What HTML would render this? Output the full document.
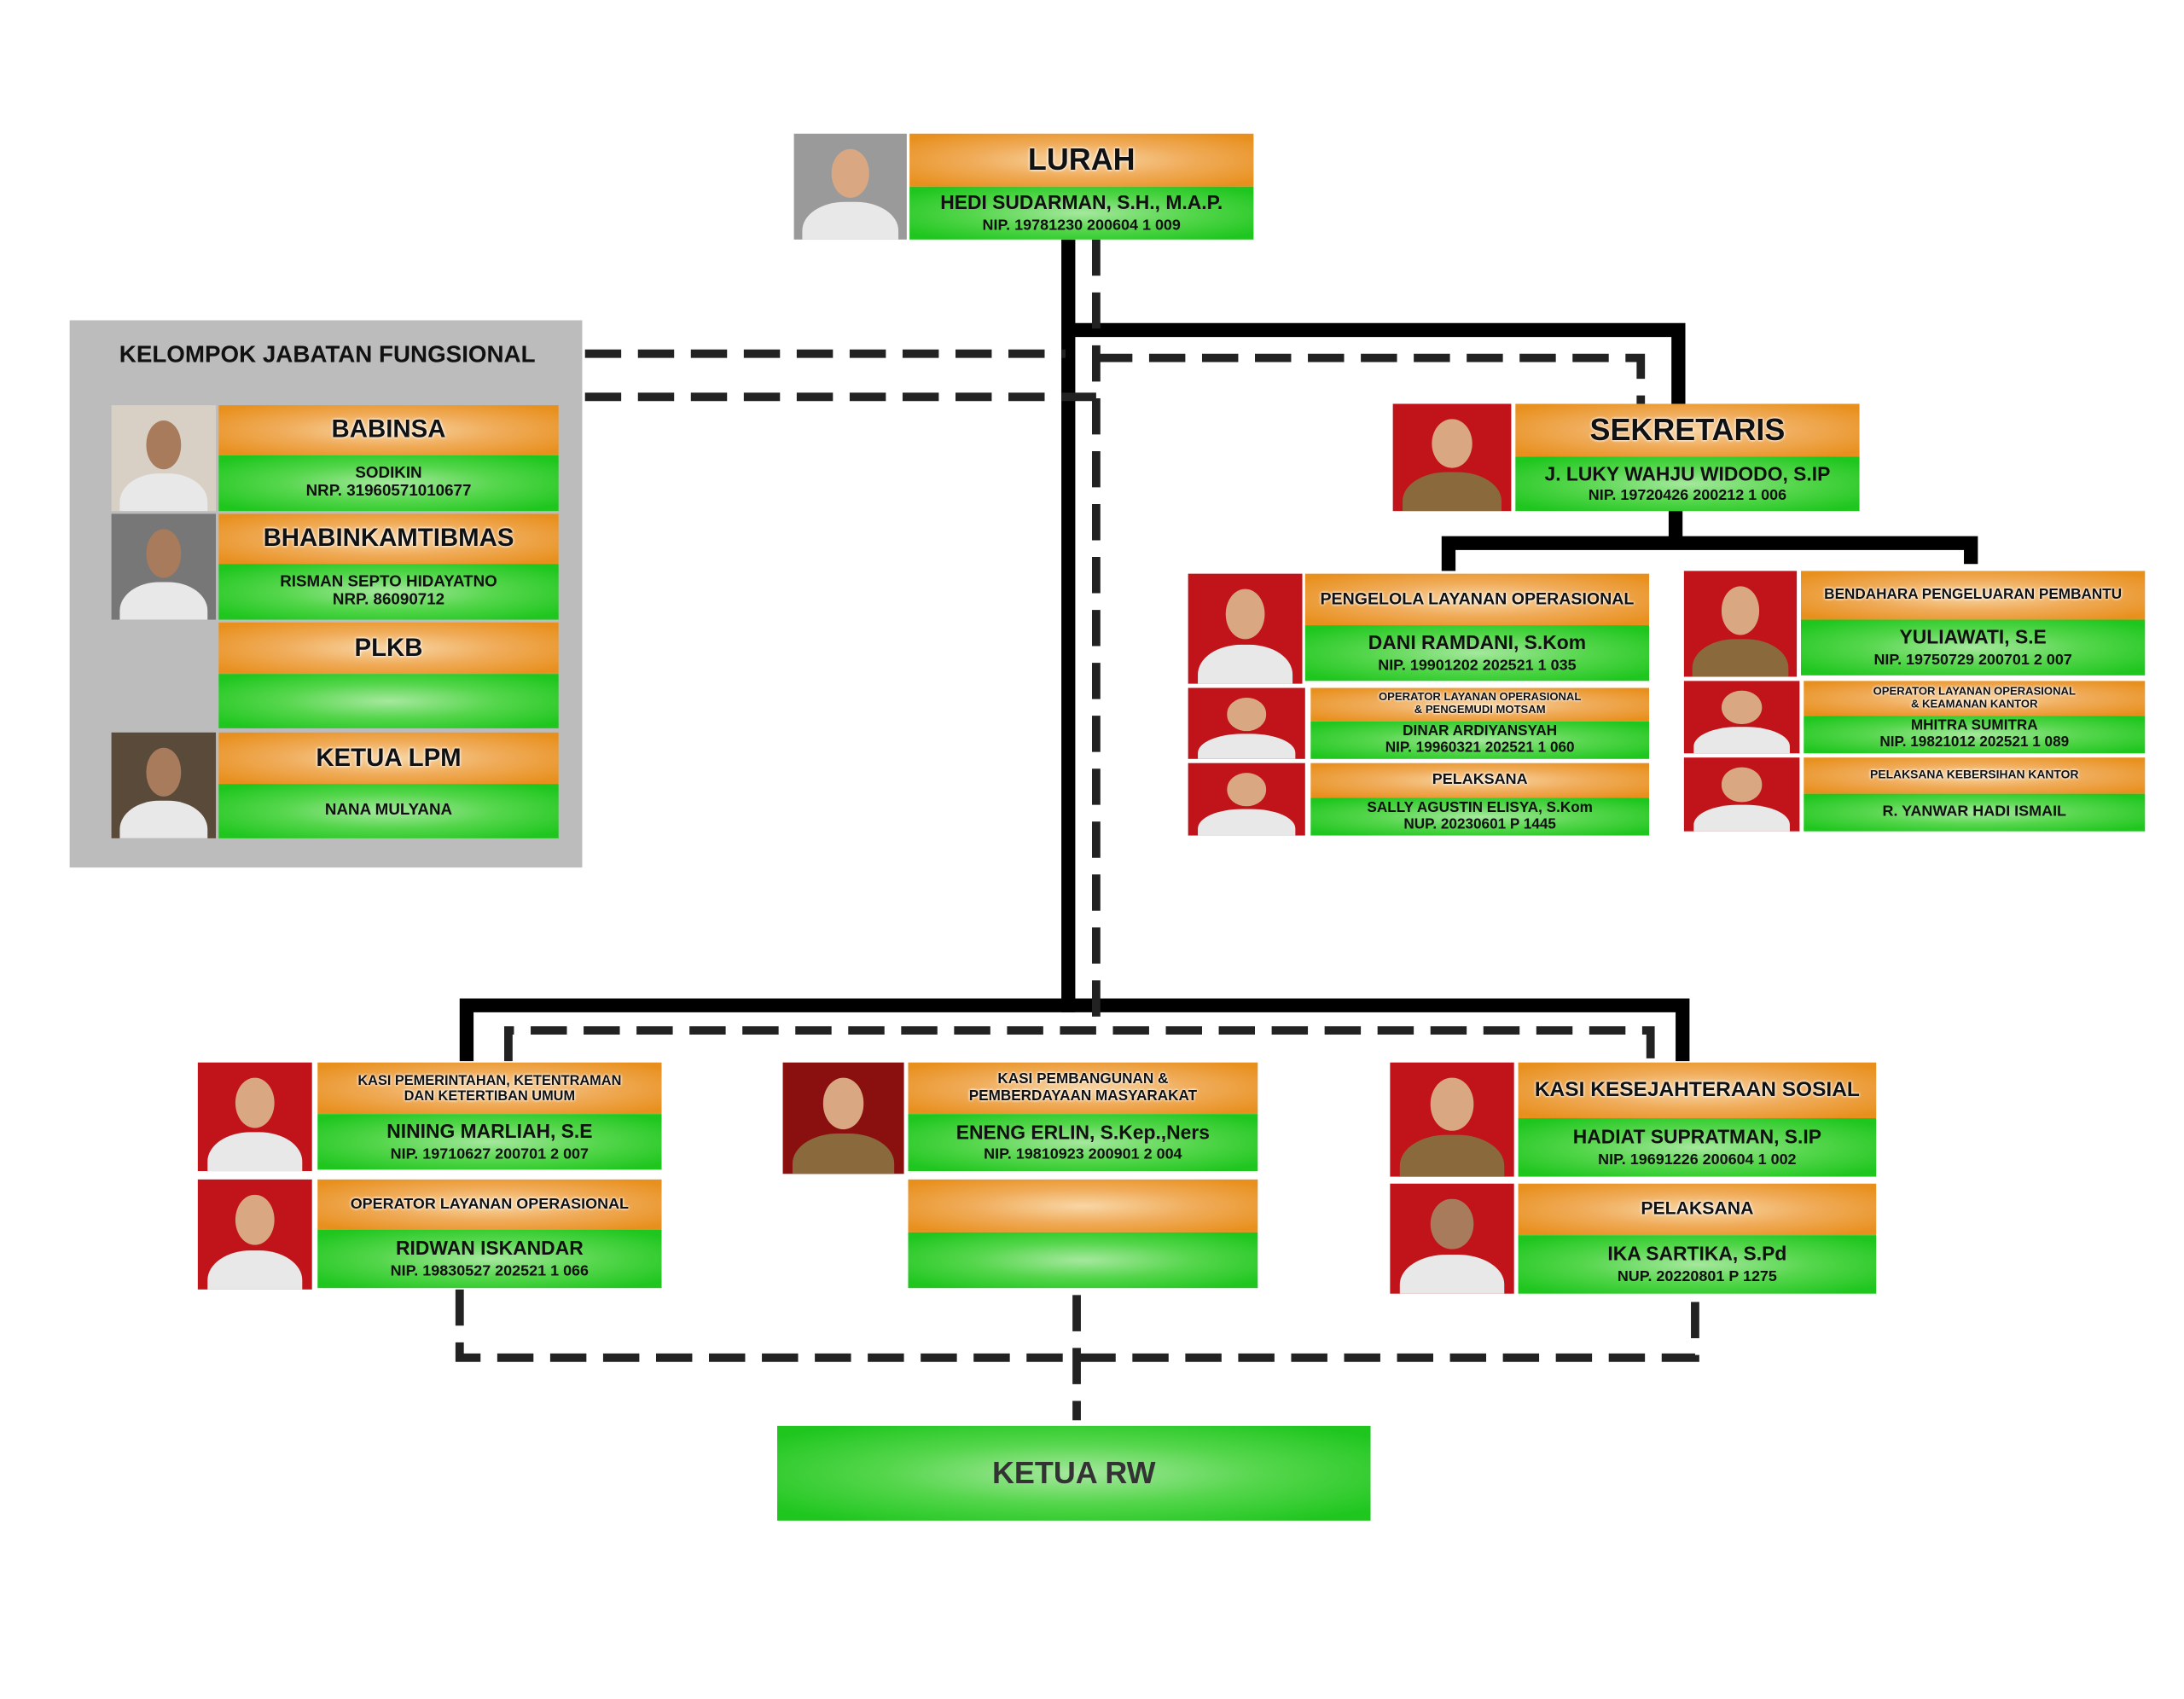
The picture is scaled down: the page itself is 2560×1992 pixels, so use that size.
<!DOCTYPE html>
<html><head><meta charset="utf-8"><style>
html,body{margin:0;padding:0;background:#fff;width:2560px;height:1992px;overflow:hidden}
#s{position:absolute;left:0;top:0;width:1568px;height:1220px;transform:scale(1.63265);transform-origin:0 0;font-family:"Liberation Sans Narrow","Liberation Sans",sans-serif;font-weight:bold}
.o,.g{position:absolute;display:flex;flex-direction:column;align-items:center;justify-content:center;text-align:center;color:#111;line-height:1.1;box-sizing:border-box}
.o{background:radial-gradient(ellipse at center,#f8d6a6 0%,#f0ac5a 45%,#e8901e 90%)}
.g{background:radial-gradient(ellipse at center,#a6e89e 0%,#55d64c 45%,#1ec61e 90%)}
.t{text-shadow:0 0 2px #fff,0 0 2px #fff}
.p{position:absolute;background:#c0141a;overflow:hidden}
.p::before{content:"";position:absolute;left:33%;top:14%;width:34%;height:46%;border-radius:50%;background:#d9a883}
.p::after{content:"";position:absolute;left:8%;top:64%;width:84%;height:60%;border-radius:45% 45% 0 0;background:#e8e8e8}
.pb::after{background:#8a6a3c}
.pd::before{background:#a77b5c}
.pg{background:#9a9a9a}
.ar{font-family:"Liberation Sans",sans-serif}
svg{position:absolute;left:0;top:0}
</style></head><body><div id="s">
<svg width="1568" height="1220">
<g stroke="#000" stroke-width="10" fill="none">
<path d="M767 172V727"/>
<path d="M767 237H1205V290"/>
<path d="M1203 367V390M1040 410V390H1415V405"/>
<path d="M335 762V722H1208V762"/>
</g>
<g stroke="#222" stroke-width="6" fill="none" stroke-dasharray="26 12">
<path d="M787 172V740"/>
<path d="M787 257H1178V290"/>
<path d="M420 254H765"/>
<path d="M420 285H787"/>
<path d="M365 762V740H1185V762"/>
<path d="M330 926V975H1217V930"/>
<path d="M773 930V1020"/>
</g>
</svg>

<!-- LURAH -->
<div class="p pg" style="left:570px;top:96px;width:81px;height:76px"></div>
<div class="o t" style="left:653px;top:96px;width:247px;height:38px;font-size:22px">LURAH</div>
<div class="g" style="left:653px;top:134px;width:247px;height:38px;font-size:14px">HEDI SUDARMAN, S.H., M.A.P.<span style="font-size:11px;margin-top:2px">NIP. 19781230 200604 1 009</span></div>

<!-- SEKRETARIS -->
<div class="p pb" style="left:1000px;top:290px;width:85px;height:77px"></div>
<div class="o t" style="left:1088px;top:290px;width:247px;height:38px;font-size:22px">SEKRETARIS</div>
<div class="g" style="left:1088px;top:328px;width:247px;height:39px;font-size:14px">J. LUKY WAHJU WIDODO, S.IP<span style="font-size:11px;margin-top:2px">NIP. 19720426 200212 1 006</span></div>

<!-- left column under sekretaris -->
<div class="p" style="left:853px;top:412px;width:82px;height:79px"></div>
<div class="o t" style="left:937px;top:412px;width:247px;height:37px;font-size:12px">PENGELOLA LAYANAN OPERASIONAL</div>
<div class="g" style="left:937px;top:449px;width:247px;height:40px;font-size:14px">DANI RAMDANI, S.Kom<span style="font-size:11px;margin-top:2px">NIP. 19901202 202521 1 035</span></div>

<div class="p" style="left:853px;top:494px;width:84px;height:51px"></div>
<div class="o t" style="left:941px;top:494px;width:243px;height:24px;font-size:8px">OPERATOR LAYANAN OPERASIONAL<br>&amp; PENGEMUDI MOTSAM</div>
<div class="g" style="left:941px;top:518px;width:243px;height:27px;font-size:10.5px">DINAR ARDIYANSYAH<br>NIP. 19960321 202521 1 060</div>

<div class="p" style="left:853px;top:548px;width:84px;height:52px"></div>
<div class="o t" style="left:941px;top:548px;width:243px;height:25px;font-size:11px">PELAKSANA</div>
<div class="g" style="left:941px;top:573px;width:243px;height:27px;font-size:10.5px">SALLY AGUSTIN ELISYA, S.Kom<br>NUP. 20230601 P 1445</div>

<!-- right column -->
<div class="p pb" style="left:1209px;top:410px;width:81px;height:76px"></div>
<div class="o t" style="left:1293px;top:410px;width:247px;height:35px;font-size:10.5px">BENDAHARA PENGELUARAN PEMBANTU</div>
<div class="g" style="left:1293px;top:445px;width:247px;height:40px;font-size:14px">YULIAWATI, S.E<span style="font-size:11px;margin-top:2px">NIP. 19750729 200701 2 007</span></div>

<div class="p" style="left:1209px;top:489px;width:83px;height:52px"></div>
<div class="o t" style="left:1295px;top:489px;width:245px;height:25px;font-size:8px">OPERATOR LAYANAN OPERASIONAL<br>&amp; KEAMANAN KANTOR</div>
<div class="g" style="left:1295px;top:514px;width:245px;height:27px;font-size:10.5px">MHITRA SUMITRA<br>NIP. 19821012 202521 1 089</div>

<div class="p" style="left:1209px;top:544px;width:83px;height:53px"></div>
<div class="o t" style="left:1295px;top:544px;width:245px;height:26px;font-size:8.5px">PELAKSANA KEBERSIHAN KANTOR</div>
<div class="g" style="left:1295px;top:570px;width:245px;height:27px;font-size:11px">R. YANWAR HADI ISMAIL</div>

<!-- FUNGSIONAL panel -->
<div style="position:absolute;left:50px;top:230px;width:368px;height:393px;background:#bcbcbc"></div>
<div class="ar" style="position:absolute;left:50px;top:245px;width:370px;text-align:center;font-size:17px;color:#111">KELOMPOK JABATAN FUNGSIONAL</div>
<div class="p pd" style="left:80px;top:291px;width:75px;height:76px;background:#d8d0c4"></div>
<div class="o t ar" style="left:157px;top:291px;width:244px;height:36px;font-size:18px">BABINSA</div>
<div class="g ar" style="left:157px;top:327px;width:244px;height:40px;font-size:11.5px">SODIKIN<br>NRP. 31960571010677</div>
<div class="p pd" style="left:80px;top:369px;width:75px;height:76px;background:#777"></div>
<div class="o t ar" style="left:157px;top:369px;width:244px;height:36px;font-size:18px">BHABINKAMTIBMAS</div>
<div class="g ar" style="left:157px;top:405px;width:244px;height:40px;font-size:11.5px">RISMAN SEPTO HIDAYATNO<br>NRP. 86090712</div>
<div class="o t ar" style="left:157px;top:447px;width:244px;height:37px;font-size:18px">PLKB</div>
<div class="g ar" style="left:157px;top:484px;width:244px;height:39px"></div>
<div class="p pd" style="left:80px;top:526px;width:75px;height:76px;background:#5a4a3a"></div>
<div class="o t ar" style="left:157px;top:526px;width:244px;height:37px;font-size:18px">KETUA LPM</div>
<div class="g ar" style="left:157px;top:563px;width:244px;height:39px;font-size:11.5px">NANA MULYANA</div>

<!-- bottom left -->
<div class="p" style="left:142px;top:763px;width:82px;height:78px"></div>
<div class="o t" style="left:228px;top:763px;width:247px;height:37px;font-size:10px">KASI PEMERINTAHAN, KETENTRAMAN<br>DAN KETERTIBAN UMUM</div>
<div class="g" style="left:228px;top:800px;width:247px;height:40px;font-size:14px">NINING MARLIAH, S.E<span style="font-size:11px;margin-top:2px">NIP. 19710627 200701 2 007</span></div>
<div class="p" style="left:142px;top:847px;width:82px;height:79px"></div>
<div class="o t" style="left:228px;top:847px;width:247px;height:36px;font-size:11px">OPERATOR LAYANAN OPERASIONAL</div>
<div class="g" style="left:228px;top:883px;width:247px;height:42px;font-size:14px">RIDWAN ISKANDAR<span style="font-size:11px;margin-top:2px">NIP. 19830527 202521 1 066</span></div>

<!-- bottom middle -->
<div class="p pb" style="left:562px;top:763px;width:87px;height:80px;background:#8a1010"></div>
<div class="o t" style="left:652px;top:763px;width:251px;height:37px;font-size:10.5px">KASI PEMBANGUNAN &amp;<br>PEMBERDAYAAN MASYARAKAT</div>
<div class="g" style="left:652px;top:800px;width:251px;height:41px;font-size:14px">ENENG ERLIN, S.Kep.,Ners<span style="font-size:11px;margin-top:2px">NIP. 19810923 200901 2 004</span></div>
<div class="o" style="left:652px;top:847px;width:251px;height:38px"></div>
<div class="g" style="left:652px;top:885px;width:251px;height:40px"></div>

<!-- bottom right -->
<div class="p pb" style="left:998px;top:763px;width:89px;height:82px"></div>
<div class="o t" style="left:1090px;top:763px;width:257px;height:40px;font-size:15px">KASI KESEJAHTERAAN SOSIAL</div>
<div class="g" style="left:1090px;top:803px;width:257px;height:42px;font-size:14px">HADIAT SUPRATMAN, S.IP<span style="font-size:11px;margin-top:2px">NIP. 19691226 200604 1 002</span></div>
<div class="p pd" style="left:998px;top:850px;width:89px;height:79px"></div>
<div class="o t" style="left:1090px;top:850px;width:257px;height:37px;font-size:13px">PELAKSANA</div>
<div class="g" style="left:1090px;top:887px;width:257px;height:42px;font-size:14px">IKA SARTIKA, S.Pd<span style="font-size:11px;margin-top:2px">NUP. 20220801 P 1275</span></div>

<!-- KETUA RW -->
<div class="g ar" style="left:558px;top:1024px;width:426px;height:68px;font-size:22px;color:#333">KETUA RW</div>
</div></body></html>
